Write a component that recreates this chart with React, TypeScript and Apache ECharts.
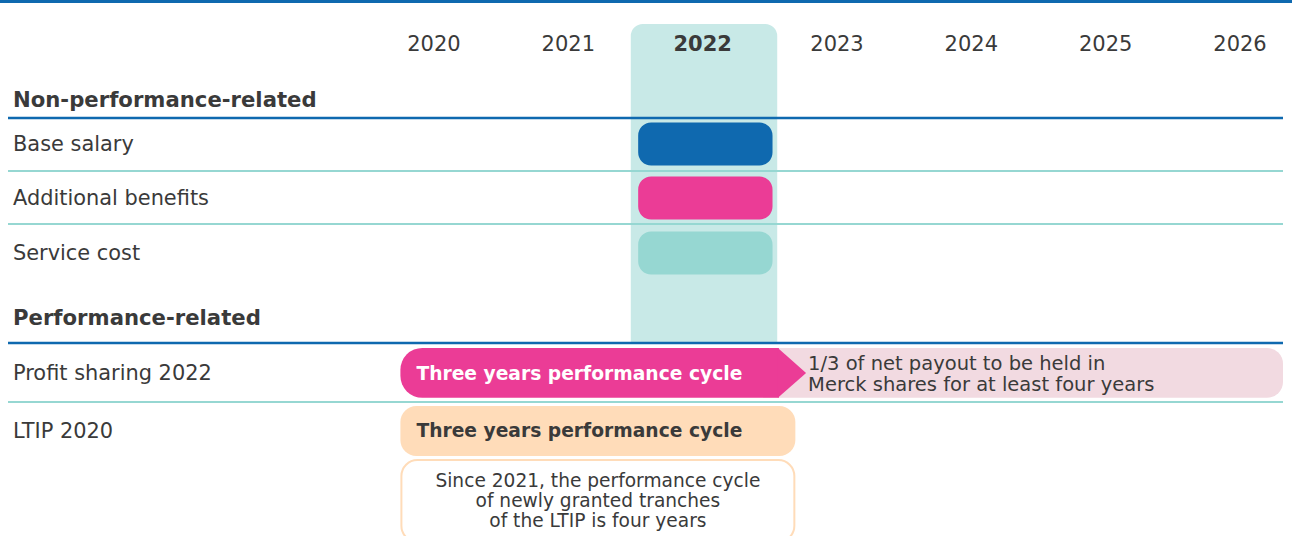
import React, { useEffect, useRef } from "react";
import * as echarts from "echarts";

// ---------- data ----------
const years = [2020, 2021, 2022, 2023, 2024, 2025, 2026];
const currentYear = 2022;
const sections = ["Non-performance-related", "Performance-related"];
const nonPerfRows = ["Base salary", "Additional benefits", "Service cost"];
const perfRows = ["Profit sharing 2022", "LTIP 2020"];
const highlightSpan = [2021.465, 2022.555];
const nonPerfSpan = [2021.52, 2022.52];
const profitCycle = [2019.75, 2022.56, 2022.77]; // start, arrow base, arrow tip
const profitHolding = [2022.45, 2026.32];
const ltipCycle = [2019.75, 2022.69];
const cycleLabel = "Three years performance cycle";
const holdingNote = ["1/3 of net payout to be held in", "Merck shares for at least four years"];
const ltipNote = ["Since 2021, the performance cycle", "of newly granted tranches", "of the LTIP is four years"];
const xRange = [2016.829, 2026.32];

// ---------- layout (row units) ----------
const Y = {
  min: -2.642,
  max: 7.193,
  years: -1.83,
  sec0: -0.82,
  line0: -0.477,
  rows0: [0, 0.99, 2.0],
  sep0: [0.495, 1.468],
  sec1: 3.19,
  line1: 3.651,
  rows1: [4.2, 5.266],
  sep1: 4.734,
  hlTop: -2.2,
  hlBottom: 3.64,
  noteTop: 5.8,
  noteBottom: 7.3,
  noteText: [6.18, 6.547, 6.914],
};

const C = {
  blue: "#0f69af",
  pink: "#eb3c96",
  teal: "#96d7d2",
  hl: "#c8e9e7",
  peach: "#ffdcb9",
  lightPink: "#f2dae1",
  text: "#3a3a3a",
};
const FONT = '"DejaVu Sans", Verdana, sans-serif';

type Item = any;

function buildItems(): Item[] {
  const items: Item[] = [];
  items.push({ kind: "hl", x0: highlightSpan[0], x1: highlightSpan[1], y0: Y.hlTop, y1: Y.hlBottom });
  years.forEach((yr) => items.push({ kind: "year", x: yr, y: Y.years, text: String(yr), bold: yr === currentYear }));
  items.push({ kind: "section", y: Y.sec0, text: sections[0] });
  items.push({ kind: "section", y: Y.sec1, text: sections[1] });
  items.push({ kind: "line", y: Y.line0, color: C.blue, w: 2.5 });
  items.push({ kind: "line", y: Y.line1, color: C.blue, w: 2.5 });
  Y.sep0.forEach((y) => items.push({ kind: "line", y, color: C.teal, w: 2 }));
  items.push({ kind: "line", y: Y.sep1, color: C.teal, w: 2 });
  nonPerfRows.forEach((t, i) => items.push({ kind: "label", y: Y.rows0[i], text: t }));
  perfRows.forEach((t, i) => items.push({ kind: "label", y: Y.rows1[i], text: t }));
  const npColors = [C.blue, C.pink, C.teal];
  nonPerfRows.forEach((t, i) =>
    items.push({ kind: "pill", x0: nonPerfSpan[0], x1: nonPerfSpan[1], y: Y.rows0[i], h: 0.79, color: npColors[i], r: 13 })
  );
  items.push({ kind: "holding", x0: profitHolding[0], x1: profitHolding[1], y: Y.rows1[0], h: 0.917 });
  items.push({ kind: "arrow", x0: profitCycle[0], x1: profitCycle[1], x2: profitCycle[2], y: Y.rows1[0], h: 0.917 });
  items.push({ kind: "ltip", x0: ltipCycle[0], x1: ltipCycle[1], y: Y.rows1[1], h: 0.917 });
  items.push({ kind: "note", x0: ltipCycle[0], x1: ltipCycle[1], y0: Y.noteTop, y1: Y.noteBottom });
  ltipNote.forEach((t, i) =>
    items.push({ kind: "noteText", x0: ltipCycle[0], x1: ltipCycle[1], y: Y.noteText[i], text: t })
  );
  return items;
}

export default function App() {
  const ref = useRef<HTMLDivElement>(null);
  useEffect(() => {
    if (!ref.current) return;
    const chart = echarts.init(ref.current, null, { renderer: "svg" });
    const items = buildItems();
    const renderItem = (params: any, api: any) => {
      const it = items[params.dataIndex];
      const cs = params.coordSys;
      const unit = api.size([0, 1])[1];
      switch (it.kind) {
        case "hl": {
          const a = api.coord([it.x0, it.y0]);
          const b = api.coord([it.x1, it.y1]);
          return { type: "rect", shape: { x: a[0], y: a[1], width: b[0] - a[0], height: b[1] - a[1], r: [12, 12, 0, 0] }, style: { fill: C.hl } };
        }
        case "year": {
          const p = api.coord([it.x, it.y]);
          return {
            type: "text",
            style: { text: it.text, x: p[0], y: p[1], align: "center", verticalAlign: "middle", fill: C.text, fontSize: 21, fontWeight: it.bold ? "bold" : "normal", fontFamily: FONT },
          };
        }
        case "section": {
          const p = api.coord([xRange[0], it.y]);
          return { type: "text", style: { text: it.text, x: 13, y: p[1], verticalAlign: "middle", fill: C.text, fontSize: 21.2, fontWeight: "bold", fontFamily: FONT } };
        }
        case "label": {
          const p = api.coord([xRange[0], it.y]);
          return { type: "text", style: { text: it.text, x: 13, y: p[1], verticalAlign: "middle", fill: C.text, fontSize: 20.9, fontFamily: FONT } };
        }
        case "line": {
          const p = api.coord([xRange[0], it.y]);
          return { type: "line", shape: { x1: cs.x, y1: p[1], x2: cs.x + cs.width, y2: p[1] }, style: { stroke: it.color, lineWidth: it.w } };
        }
        case "pill": {
          const a = api.coord([it.x0, it.y]);
          const b = api.coord([it.x1, it.y]);
          const h = unit * it.h;
          return { type: "rect", shape: { x: a[0], y: a[1] - h / 2, width: b[0] - a[0], height: h, r: it.r }, style: { fill: it.color } };
        }
        case "holding": {
          const a = api.coord([it.x0, it.y]);
          const b = api.coord([it.x1, it.y]);
          const h = unit * it.h;
          const tx = api.coord([profitCycle[2], it.y])[0] + 2;
          return {
            type: "group",
            children: [
              { type: "rect", shape: { x: a[0], y: a[1] - h / 2, width: b[0] - a[0], height: h, r: [0, 16, 16, 0] }, style: { fill: C.lightPink } },
              { type: "text", style: { text: holdingNote.join("\n"), x: tx, y: a[1] + 1, verticalAlign: "middle", fill: C.text, fontSize: 19.5, lineHeight: 21, fontFamily: FONT } },
            ],
          };
        }
        case "arrow": {
          const a = api.coord([it.x0, it.y]);
          const b = api.coord([it.x1, it.y]);
          const c = api.coord([it.x2, it.y]);
          const h = unit * it.h;
          const top = a[1] - h / 2;
          return {
            type: "group",
            children: [
              { type: "rect", shape: { x: a[0], y: top, width: b[0] - a[0] + 1, height: h, r: [22, 0, 0, 22] }, style: { fill: C.pink } },
              { type: "polygon", shape: { points: [[b[0], top], [c[0], a[1]], [b[0], top + h]] }, style: { fill: C.pink } },
              { type: "text", style: { text: cycleLabel, x: a[0] + 16, y: a[1] + 1, verticalAlign: "middle", fill: "#ffffff", fontSize: 18.7, fontWeight: "bold", fontFamily: FONT } },
            ],
          };
        }
        case "ltip": {
          const a = api.coord([it.x0, it.y]);
          const b = api.coord([it.x1, it.y]);
          const h = unit * it.h;
          return {
            type: "group",
            children: [
              { type: "rect", shape: { x: a[0], y: a[1] - h / 2, width: b[0] - a[0], height: h, r: 16 }, style: { fill: C.peach } },
              { type: "text", style: { text: cycleLabel, x: a[0] + 16, y: a[1], verticalAlign: "middle", fill: C.text, fontSize: 18.7, fontWeight: "bold", fontFamily: FONT } },
            ],
          };
        }
        case "note": {
          const a = api.coord([it.x0, it.y0]);
          const b = api.coord([it.x1, it.y1]);
          return { type: "rect", shape: { x: a[0] + 1, y: a[1], width: b[0] - a[0] - 2, height: b[1] - a[1], r: 16 }, style: { fill: "#ffffff", stroke: C.peach, lineWidth: 2 } };
        }
        case "noteText": {
          const a = api.coord([it.x0, it.y]);
          const b = api.coord([it.x1, it.y]);
          return { type: "text", style: { text: it.text, x: (a[0] + b[0]) / 2, y: a[1], align: "center", verticalAlign: "middle", fill: C.text, fontSize: 18.6, fontFamily: FONT } };
        }
      }
      return null;
    };
    chart.setOption({
      animation: false,
      grid: { left: 8, right: 9, top: 0, bottom: 0 },
      xAxis: { type: "value", min: xRange[0], max: xRange[1], show: false },
      yAxis: { type: "value", min: Y.min, max: Y.max, inverse: true, show: false },
      series: [
        {
          type: "custom",
          renderItem,
          clip: false,
          silent: true,
          data: items.map((it) => [it.x0 ?? it.x ?? xRange[0], it.x1 ?? it.x ?? xRange[0], it.y ?? it.y0]),
          encode: { x: [0, 1], y: 2 },
        },
      ],
      graphic: [{ type: "rect", shape: { x: 0, y: 0, width: 1292, height: 3 }, style: { fill: C.blue } }],
    });
    return () => chart.dispose();
  }, []);
  return <div ref={ref} style={{ position: "absolute", left: 0, top: 0, width: 1292, height: 536, background: "#fff" }} />;
}
